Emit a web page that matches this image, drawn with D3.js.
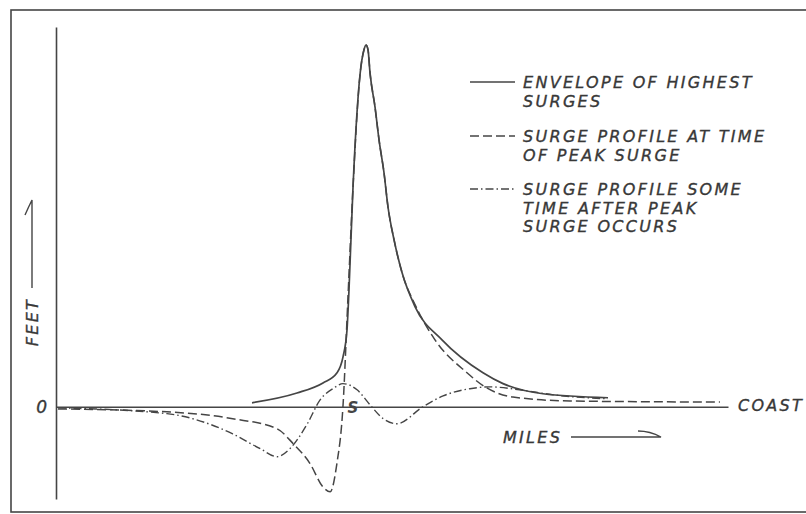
<!DOCTYPE html>
<html>
<head>
<meta charset="utf-8">
<script src="https://cdn.jsdelivr.net/npm/d3@7"></script>
<style>
  body { margin: 0; background: #fff; }
  svg { display: block; }
  .lbl { font-family: "DejaVu Sans", sans-serif; font-style: italic; font-size: 16px; fill: #383838; stroke: #383838; stroke-width: 0.35; letter-spacing: 2.3px; }
  .axis path { stroke-width: 1.6; }
  .axis text { font-family: "DejaVu Sans", sans-serif; font-style: italic; font-size: 17px; fill: #383838; stroke: #383838; stroke-width: 0.35; }
</style>
</head>
<body>
<div class="main"></div>
<script>
const WIDTH = 806;
const HEIGHT = 514;
const INK = "#454545";

// envelope of highest surges (solid)
const envelopeMiles = [29.17, 35.86, 39.73, 41.82, 42.71, 43.30, 43.60, 44.20, 45.24, 45.83, 46.13, 46.43, 46.73, 47.47, 48.07, 48.81, 49.40, 50.30, 51.49, 53.42, 57.44, 63.54, 66.52, 72.47, 82.14];
const envelopeFeet  = [0.11, 0.38, 0.66, 0.94, 1.38, 2.12, 3.23, 6.08, 9.18, 9.87, 10.0, 9.87, 9.23, 8.29, 7.38, 6.47, 5.53, 4.62, 3.71, 2.77, 1.85, 0.94, 0.64, 0.36, 0.25];

// surge profile at time of peak surge (dashed)
const peakMiles = [0.3, 16.5, 26.3, 32.9, 35.3, 37.8, 39.7, 40.8, 41.8, 42.7, 43.45, 44.20, 45.24, 45.83, 46.13, 46.43, 46.73, 47.47, 48.07, 48.81, 49.40, 50.30, 51.49, 53.57, 56.40, 61.16, 63.84, 68.0, 76.5, 98.8];
const peakFeet  = [-0.06, -0.14, -0.33, -0.61, -1.02, -1.57, -2.21, -2.35, -1.57, 0.0, 3.04, 6.08, 9.18, 9.87, 10.0, 9.87, 9.23, 8.29, 7.38, 6.47, 5.53, 4.62, 3.71, 2.77, 1.85, 0.94, 0.55, 0.27, 0.16, 0.13];

// surge profile some time after peak surge occurs (dash-dot)
const afterMiles = [0.3, 16.5, 26.3, 30.4, 32.9, 34.8, 37.4, 39.3, 41.2, 42.7, 44.8, 46.7, 48.7, 50.7, 54.6, 57.6, 61.6, 64.6, 69.0, 74.0, 82.1];
const afterFeet  = [-0.03, -0.19, -0.75, -1.16, -1.38, -1.16, -0.47, 0.19, 0.50, 0.64, 0.47, 0.06, -0.33, -0.47, 0.0, 0.30, 0.50, 0.55, 0.47, 0.33, 0.22];

const legendLabels = [
    ["ENVELOPE OF HIGHEST", "SURGES"],
    ["SURGE PROFILE AT TIME", "OF PEAK SURGE"],
    ["SURGE PROFILE SOME", "TIME AFTER PEAK", "SURGE OCCURS"]
];
const legendDash = [null, "9,4", "8,3,1.5,3"];
const stormMile = 44.2;

var svg = d3.select(".main")
    .append("svg")
        .attr("width", WIDTH)
        .attr("height", HEIGHT);

var x = d3.scaleLinear().domain([0, 100]).range([56, 728]);
var y = d3.scaleLinear().domain([-2.55, 10.5]).range([499, 27]);

// frame
svg.append("rect")
    .attr("x", 11).attr("y", 10)
    .attr("width", WIDTH + 10).attr("height", 502)
    .attr("fill", "none")
    .attr("stroke", INK)
    .attr("stroke-width", 1.6);

// axes: vertical feet axis and the zero line out to the coast
svg.append("g")
    .attr("class", "axis")
    .attr("transform", `translate(${x(0)},0)`)
    .call(d3.axisLeft(y).tickValues([0]).tickSize(0).tickSizeOuter(0).tickPadding(9).tickFormat(d3.format("d")))
    .call(g => g.select(".domain").attr("stroke", INK));

svg.append("g")
    .attr("class", "axis")
    .attr("transform", `translate(0,${y(0)})`)
    .call(d3.axisBottom(x).tickValues([]).tickSizeOuter(0))
    .call(g => g.select(".domain").attr("stroke", INK));

function line_for(xs, ys) {
    return d3.line()
        .x((d, i) => x(xs[i]))
        .y((d, i) => y(ys[i]))
        .curve(d3.curveMonotoneX)(xs);
}

svg.append("path")
    .attr("d", line_for(peakMiles, peakFeet))
    .attr("fill", "none").attr("stroke", INK).attr("stroke-width", 1.5)
    .attr("stroke-dasharray", legendDash[1]);

svg.append("path")
    .attr("d", line_for(afterMiles, afterFeet))
    .attr("fill", "none").attr("stroke", INK).attr("stroke-width", 1.4)
    .attr("stroke-dasharray", legendDash[2]);

svg.append("path")
    .attr("d", line_for(envelopeMiles, envelopeFeet))
    .attr("fill", "none").attr("stroke", INK).attr("stroke-width", 1.7);

// storm symbol on the zero line
svg.append("text")
    .attr("x", x(stormMile)).attr("y", y(0) + 6)
    .attr("text-anchor", "middle")
    .style("font-family", "DejaVu Sans")
    .style("font-weight", "bold")
    .style("font-style", "italic")
    .style("font-size", "15px")
    .attr("fill", INK)
    .text("S");

// legend
var legendTop = [88, 142, 195];
legendLabels.forEach((lines, i) => {
    var g = svg.append("g").attr("transform", `translate(0,${legendTop[i]})`);
    g.append("line")
        .attr("x1", 470).attr("x2", 515)
        .attr("y1", -6).attr("y2", -6)
        .attr("stroke", INK).attr("stroke-width", 1.4)
        .attr("stroke-dasharray", legendDash[i]);
    g.selectAll("text")
        .data(lines)
        .join("text")
        .attr("class", "lbl")
        .attr("x", 523)
        .attr("y", (d, j) => j * 18.7)
        .text(d => d);
});

// axis titles with their hand-drawn arrows
svg.append("text")
    .attr("class", "lbl")
    .attr("transform", "translate(38,322) rotate(-90)")
    .attr("text-anchor", "middle")
    .text("FEET");
svg.append("path")
    .attr("d", "M32,288 L32,200 Q29,206 25,215")
    .attr("fill", "none").attr("stroke", INK).attr("stroke-width", 1.4);

svg.append("text")
    .attr("class", "lbl")
    .attr("x", 503).attr("y", 443)
    .text("MILES");
svg.append("path")
    .attr("d", "M571,437 L661,437 Q650,431 638,431")
    .attr("fill", "none").attr("stroke", INK).attr("stroke-width", 1.4);

svg.append("text")
    .attr("class", "lbl")
    .attr("x", 738).attr("y", 411)
    .text("COAST");
</script>
</body>
</html>
